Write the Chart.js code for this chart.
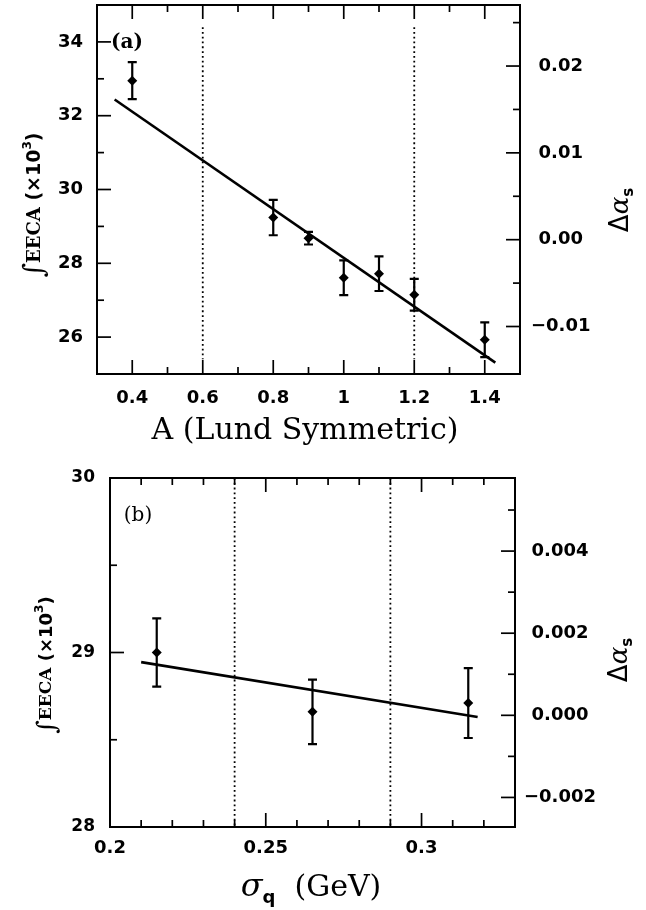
<!DOCTYPE html>
<html>
<head>
<meta charset="utf-8">
<style>
  html, body { margin: 0; padding: 0; background: #fff; }
  #wrap { position: relative; width: 646px; height: 910px; }
  canvas { position: absolute; left: 0; }
  #chartA { top: 0; }
  #chartB { top: 455px; }
</style>
<script src="https://cdn.jsdelivr.net/npm/chart.js@4.4.1/dist/chart.umd.min.js"></script>
</head>
<body>
<div id="wrap">
  <canvas id="chartA" width="646" height="455"></canvas>
  <canvas id="chartB" width="646" height="455"></canvas>
</div>
<script>
// --- panel (a): A (Lund Symmetric) ---
const aParam = [0.4, 0.8, 0.9, 1.0, 1.1, 1.2, 1.4];
const aEeca = [32.95, 29.24, 28.68, 27.61, 27.72, 27.15, 25.93];
const aErr = [0.50, 0.48, 0.17, 0.47, 0.47, 0.43, 0.47];
const aFitX = [0.35, 1.43];
const aFitY = [32.44, 25.31];
const aDotX = [0.6, 1.2];
const aDotY = [34.4, 25.4];
const aXMajor = [0.4, 0.6, 0.8, 1.0, 1.2, 1.4];
const aXMinor = [0.5, 0.7, 0.9, 1.1, 1.3];
const aYMajor = [26, 28, 30, 32, 34];
const aYMinor = [27, 29, 31, 33];
const aAlphaMajor = [-0.01, 0, 0.01, 0.02];
const aAlphaMinor = [-0.005, 0.005, 0.015, 0.025];

// --- panel (b): sigma_q (GeV) ---
const bParam = [0.215, 0.265, 0.315];
const bEeca = [29.0, 28.66, 28.71];
const bErr = [0.195, 0.185, 0.20];
const bFitX = [0.21, 0.318];
const bFitY = [28.945, 28.63];
const bDotX = [0.24, 0.29];
const bDotY = [30, 28];
const bXMajor = [0.2, 0.25, 0.3];
const bXMinor = [0.21, 0.22, 0.23, 0.24, 0.26, 0.27, 0.28, 0.29, 0.31, 0.32];
const bYMajor = [28, 29, 30];
const bYMinor = [28.5, 29.5];
const bAlphaMajor = [-0.002, 0, 0.002, 0.004];
const bAlphaMinor = [-0.001, 0.001, 0.003, 0.005];

// conversion EECA -> delta alpha_s (shared by both panels)
const ALPHA_ZERO = 28.64;
const ALPHA_PER_UNIT = 0.00425;
const toAlpha = v => (v - ALPHA_ZERO) * ALPHA_PER_UNIT;

const W = 646, H = 455;
const tickFont = size => ({ family: 'DejaVu Sans', weight: 'bold', size: size });
const signed = (v, d) => (v < -1e-9 ? '\u2212' : '') + Math.abs(v).toFixed(d);

// frame + inward tick marks on all four sides
const frameTicks = {
  id: 'frameTicks',
  afterDatasetsDraw(chart, args, o) {
    const { ctx, chartArea: a, scales } = chart;
    ctx.save();
    ctx.strokeStyle = '#000';
    ctx.lineWidth = 2;
    ctx.strokeRect(a.left, a.top, a.right - a.left, a.bottom - a.top);
    ctx.lineWidth = 1.7;
    const mark = (scale, vals, len, side) => {
      vals.forEach(v => {
        const p = scale.getPixelForValue(v);
        ctx.beginPath();
        if (side === 'bottom') { ctx.moveTo(p, a.bottom); ctx.lineTo(p, a.bottom - len); }
        if (side === 'top') { ctx.moveTo(p, a.top); ctx.lineTo(p, a.top + len); }
        if (side === 'left') { ctx.moveTo(a.left, p); ctx.lineTo(a.left + len, p); }
        if (side === 'right') { ctx.moveTo(a.right, p); ctx.lineTo(a.right - len, p); }
        ctx.stroke();
      });
    };
    ['bottom', 'top'].forEach(s => {
      mark(scales.x, o.xMajor, o.major, s);
      mark(scales.x, o.xMinor, o.minor, s);
    });
    mark(scales.y, o.yMajor, o.major, 'left');
    mark(scales.y, o.yMinor, o.minor, 'left');
    mark(scales.y2, o.y2Major, o.major, 'right');
    mark(scales.y2, o.y2Minor, o.minor, 'right');
    ctx.restore();
  }
};

// vertical error bars with caps
const errorBars = {
  id: 'errorBars',
  afterDatasetsDraw(chart, args, o) {
    const { ctx, scales } = chart;
    const meta = chart.getDatasetMeta(0);
    ctx.save();
    ctx.strokeStyle = '#000';
    ctx.lineWidth = 2.2;
    meta.data.forEach((pt, i) => {
      const v = o.values[i], e = o.errors[i];
      const top = scales.y.getPixelForValue(v + e);
      const bot = scales.y.getPixelForValue(v - e);
      ctx.beginPath();
      ctx.moveTo(pt.x, top); ctx.lineTo(pt.x, bot);
      ctx.moveTo(pt.x - 4.5, top); ctx.lineTo(pt.x + 4.5, top);
      ctx.moveTo(pt.x - 4.5, bot); ctx.lineTo(pt.x + 4.5, bot);
      ctx.stroke();
    });
    ctx.restore();
  }
};

// axis titles built from several font pieces (integral sign, superscript, subscript)
const richTitles = {
  id: 'richTitles',
  afterDraw(chart, args, o) {
    const ctx = chart.ctx;
    o.items.forEach(it => {
      ctx.save();
      ctx.fillStyle = '#000';
      ctx.textBaseline = 'middle';
      ctx.textAlign = 'left';
      ctx.translate(it.x, it.y);
      ctx.rotate(it.rot || 0);
      let total = 0;
      const widths = it.parts.map(p => { ctx.font = p.font; const w = ctx.measureText(p.text).width; total += w; return w; });
      let cx = -total / 2;
      it.parts.forEach((p, i) => {
        ctx.font = p.font;
        ctx.fillText(p.text, cx, p.dy || 0);
        cx += widths[i];
      });
      ctx.restore();
    });
  }
};

function eecaTitle(x, y, s) {
  return {
    x: x, y: y, rot: -Math.PI / 2,
    parts: [
      { text: '\u222B', font: 'italic ' + Math.round(s * 1.45) + 'px "DejaVu Serif"', dy: 1 },
      { text: 'EECA', font: 'bold ' + Math.round(s * 0.95) + 'px "DejaVu Serif"' },
      { text: ' (\u00D710', font: 'bold ' + s + 'px "DejaVu Sans"' },
      { text: '3', font: 'bold ' + Math.round(s * 0.65) + 'px "DejaVu Sans"', dy: -s * 0.4 },
      { text: ')', font: 'bold ' + s + 'px "DejaVu Sans"' }
    ]
  };
}

function alphaTitle(x, y) {
  return {
    x: x, y: y, rot: -Math.PI / 2,
    parts: [
      { text: '\u0394', font: '26px "DejaVu Sans"' },
      { text: '\u03B1', font: 'italic 26px "DejaVu Serif"' },
      { text: 's', font: 'bold 15px "DejaVu Sans"', dy: 8 }
    ]
  };
}

function buildChart(id, p) {
  const datasets = [
    {
      type: 'scatter',
      data: p.xs.map((x, i) => ({ x: x, y: p.ys[i] })),
      pointStyle: 'rectRot', pointRadius: 5,
      backgroundColor: '#000', borderColor: '#000', borderWidth: 0
    },
    {
      type: 'line',
      data: p.fitX.map((x, i) => ({ x: x, y: p.fitY[i] })),
      borderColor: '#000', borderWidth: 2.6, pointRadius: 0, fill: false
    }
  ];
  p.dotX.forEach(x => {
    datasets.push({
      type: 'line',
      data: p.dotY.map(y => ({ x: x, y: y })),
      borderColor: '#000', borderWidth: 1.8, borderDash: [1.8, 3], pointRadius: 0, fill: false
    });
  });

  return new Chart(document.getElementById(id), {
    data: { datasets: datasets },
    options: {
      responsive: false,
      animation: false,
      devicePixelRatio: 1,
      layout: { padding: { top: p.frame.top, left: 0, right: 0, bottom: 0 } },
      plugins: {
        legend: { display: false },
        tooltip: { enabled: false },
        frameTicks: {
          xMajor: p.xMajor, xMinor: p.xMinor, yMajor: p.yMajor, yMinor: p.yMinor,
          y2Major: p.y2Major, y2Minor: p.y2Minor, major: 14, minor: 7
        },
        errorBars: { values: p.ys, errors: p.errs },
        richTitles: { items: p.titles }
      },
      scales: {
        x: {
          type: 'linear', position: 'bottom', min: p.xMin, max: p.xMax,
          grid: { display: false, drawTicks: false }, border: { display: false },
          afterBuildTicks: s => { s.ticks = p.xMajor.map(v => ({ value: v })); },
          ticks: { callback: v => String(v), font: tickFont(18), color: '#000', padding: p.xPad, maxRotation: 0, autoSkip: false },
          afterFit: s => { s.height = H - p.frame.bottom; s.paddingLeft = 0; s.paddingRight = 0; }
        },
        y: {
          type: 'linear', position: 'left', min: p.yMin, max: p.yMax,
          grid: { display: false, drawTicks: false }, border: { display: false },
          afterBuildTicks: s => { s.ticks = p.yMajor.map(v => ({ value: v })); },
          ticks: { callback: v => String(v), font: tickFont(p.yFont), color: '#000', padding: p.yPad, autoSkip: false },
          afterFit: s => { s.width = p.frame.left; s.paddingTop = 0; s.paddingBottom = 0; }
        },
        y2: {
          type: 'linear', position: 'right', min: toAlpha(p.yMin), max: toAlpha(p.yMax),
          grid: { display: false, drawTicks: false }, border: { display: false },
          afterBuildTicks: s => { s.ticks = p.y2Major.map(v => ({ value: v })); },
          ticks: { callback: v => signed(v, p.y2Digits), font: tickFont(18), color: '#000', padding: p.y2Pad, crossAlign: 'center', autoSkip: false },
          afterFit: s => { s.width = W - p.frame.right; s.paddingTop = 0; s.paddingBottom = 0; }
        }
      }
    },
    plugins: [frameTicks, errorBars, richTitles]
  });
}

// --- chart (a) ---
buildChart('chartA', {
  xs: aParam, ys: aEeca, errs: aErr,
  fitX: aFitX, fitY: aFitY, dotX: aDotX, dotY: aDotY,
  xMin: 0.3, xMax: 1.5, yMin: 25, yMax: 35,
  xMajor: aXMajor, xMinor: aXMinor, yMajor: aYMajor, yMinor: aYMinor,
  y2Major: aAlphaMajor, y2Minor: aAlphaMinor, y2Digits: 2,
  frame: { left: 97, right: 520, top: 5, bottom: 374 },
  xPad: 14, yPad: 14, y2Pad: 11, yFont: 18,
  titles: [
    eecaTitle(35, 205, 19),
    alphaTitle(621, 210),
    { x: 305, y: 431, parts: [{ text: 'A (Lund Symmetric)', font: '30px "DejaVu Serif"' }] },
    { x: 127, y: 43, parts: [{ text: '(a)', font: 'bold 20px "DejaVu Serif"' }] }
  ]
});

// --- chart (b) ---
buildChart('chartB', {
  xs: bParam, ys: bEeca, errs: bErr,
  fitX: bFitX, fitY: bFitY, dotX: bDotX, dotY: bDotY,
  xMin: 0.2, xMax: 0.33, yMin: 28, yMax: 30,
  xMajor: bXMajor, xMinor: bXMinor, yMajor: bYMajor, yMinor: bYMinor,
  y2Major: bAlphaMajor, y2Minor: bAlphaMinor, y2Digits: 3,
  frame: { left: 110, right: 515, top: 23, bottom: 372 },
  xPad: 11, yPad: 15, y2Pad: 9, yFont: 17,
  titles: [
    eecaTitle(47, 210, 18),
    alphaTitle(620, 205),
    {
      x: 311, y: 433, parts: [
        { text: '\u03C3', font: 'italic 32px "DejaVu Serif"' },
        { text: 'q', font: 'bold 18px "DejaVu Sans"', dy: 10 },
        { text: '  (GeV)', font: '30px "DejaVu Serif"' }
      ]
    },
    { x: 138, y: 61, parts: [{ text: '(b)', font: '20px "DejaVu Serif"' }] }
  ]
});
</script>
</body>
</html>
